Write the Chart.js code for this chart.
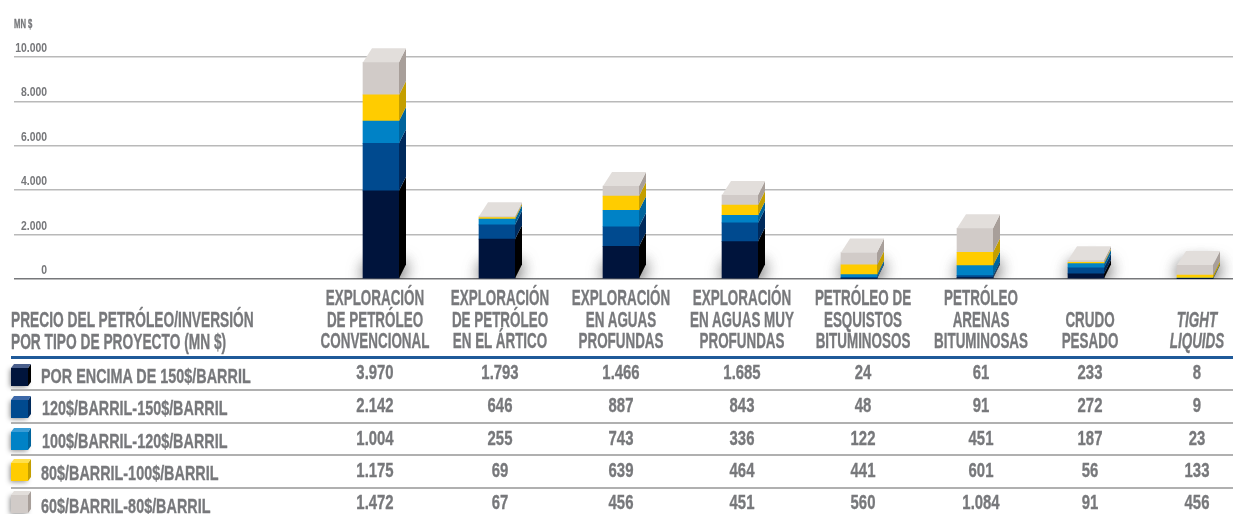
<!DOCTYPE html>
<html><head><meta charset="utf-8">
<script src="https://cdn.jsdelivr.net/npm/chart.js@4"></script>
<style>
html,body{margin:0;padding:0;background:#fff;width:1233px;height:514px;overflow:hidden}
#wrap{position:relative;width:1233px;height:514px}
canvas{position:absolute;left:0;top:0}
.t{position:absolute;white-space:nowrap;color:#77787b;font-family:"Liberation Sans",sans-serif;font-weight:700;line-height:1;transform-origin:left center;-webkit-text-stroke:.35px #77787b}
.c{text-align:center;transform-origin:center center}
.h{font-size:22px;line-height:21.5px}
.r{font-size:21px}
.rule{position:absolute;left:11px;right:0}
</style></head><body>
<div id="wrap"><canvas id="c" width="1233" height="514"></canvas></div>
<script>
const categories=[["EXPLORACIÓN","DE PETRÓLEO","CONVENCIONAL"],["EXPLORACIÓN","DE PETRÓLEO","EN EL ÁRTICO"],["EXPLORACIÓN","EN AGUAS","PROFUNDAS"],["EXPLORACIÓN","EN AGUAS MUY","PROFUNDAS"],["PETRÓLEO DE","ESQUISTOS","BITUMINOSOS"],["PETRÓLEO","ARENAS","BITUMINOSAS"],["CRUDO","PESADO"],["TIGHT","LIQUIDS"]];
const seriesNames=["POR ENCIMA DE 150$/BARRIL","120$/BARRIL-150$/BARRIL","100$/BARRIL-120$/BARRIL","80$/BARRIL-100$/BARRIL","60$/BARRIL-80$/BARRIL"];
const over150=[3970,1793,1466,1685,24,61,233,8];
const from120=[2142,646,887,843,48,91,272,9];
const from100=[1004,255,743,336,122,451,187,23];
const from80=[1175,69,639,464,441,601,56,133];
const from60=[1472,67,456,451,560,1084,91,456];
const yTicks=[0,2000,4000,6000,8000,10000];
const series=[over150,from120,from100,from80,from60];
const frontColors=["#00143c","#004a8f","#0082c6","#ffcc00","#d1cbc8"];
const sideColors=["#000000","#002a5c","#00649c","#c49f00","#a89f9a"];
const legendTops=["#4a5f8c","#3c68a8","#3a9dd6","#ffe04d","#e2dedb"];
const topColor="#e2dedb";
const barCenters=[381,497,621,740,859,975,1086,1195];
const headCenters=[375,500,621,742,863,981,1090,1197];
const labelYs=[375,407,440,472,505];
const valueYs=[371,404,437,469,501];
const labelXs=[41,42,42,41,41];
const cubeTops=[364,396,428,459,491];
const ruleYs=[390,423,455,488];
const DX=7,DY=14;

function fmt(n){return String(n).replace(/\B(?=(\d{3})+$)/g,'.');}

class ColumnScale extends Chart.CategoryScale{
  getPixelForValue(v,i){
    const k=(v===null||v===undefined)?i:v;
    return barCenters[k];
  }
}
ColumnScale.id='column';
ColumnScale.defaults=Chart.CategoryScale.defaults;
class NarrowLinear extends Chart.LinearScale{
  drawLabels(area){
    const c=this.ctx,R=this.right;
    c.save();c.translate(R,0);c.scale(.8,1);c.translate(-R,0);
    super.drawLabels(area);
    c.restore();
  }
}
NarrowLinear.id='narrowLinear';
NarrowLinear.defaults=Chart.LinearScale.defaults;
Chart.register(ColumnScale,NarrowLinear);

const shadowPlugin={id:'shadow',beforeDatasetsDraw(chart){
  const ctx=chart.ctx,m=chart.getDatasetMeta(0),a=chart.chartArea;
  ctx.save();
  ctx.beginPath();ctx.rect(0,0,chart.width,a.bottom);ctx.clip();
  ctx.shadowColor='rgba(0,0,0,.6)';ctx.shadowBlur=18;ctx.shadowOffsetX=0;ctx.shadowOffsetY=0;
  ctx.fillStyle='#999';
  m.data.forEach(b=>{
    const l=b.x-b.width/2,r=b.x+b.width/2,bo=b.base;
    for(let n=0;n<2;n++){
      ctx.beginPath();ctx.moveTo(l,bo);ctx.lineTo(r,bo);ctx.lineTo(r+DX,bo-DY);ctx.lineTo(l+DX,bo-DY);ctx.closePath();ctx.fill();
    }
  });
  ctx.restore();
}};
const cubePlugin={id:'cube',afterDatasetsDraw(chart){
  const ctx=chart.ctx;
  ctx.save();
  chart.data.datasets.forEach((ds,di)=>{
    chart.getDatasetMeta(di).data.forEach(b=>{
      const r=b.x+b.width/2,l=b.x-b.width/2,t=Math.min(b.y,b.base),bo=Math.max(b.y,b.base);
      ctx.fillStyle=sideColors[di];
      ctx.beginPath();ctx.moveTo(r,bo);ctx.lineTo(r+DX,bo-DY);ctx.lineTo(r+DX,t-DY);ctx.lineTo(r,t);ctx.closePath();ctx.fill();
      if(di===chart.data.datasets.length-1){
        ctx.fillStyle=topColor;
        ctx.beginPath();ctx.moveTo(l,t);ctx.lineTo(l+DX+2,t-DY);ctx.lineTo(r+DX,t-DY);ctx.lineTo(r,t);ctx.closePath();ctx.fill();
      }
    });
  });
  cubeTops.forEach((top,i)=>{
    const x=11,w=17,h=18,dy=4,dx=3;
    ctx.shadowColor='rgba(0,0,0,.45)';ctx.shadowBlur=5;ctx.shadowOffsetX=-1;ctx.shadowOffsetY=1;
    ctx.fillStyle=frontColors[i];ctx.fillRect(x,top+dy,w,h);
    ctx.shadowColor='transparent';
    ctx.fillStyle=sideColors[i];
    ctx.beginPath();ctx.moveTo(x+w,top+dy);ctx.lineTo(x+w+dx,top);ctx.lineTo(x+w+dx,top+h);ctx.lineTo(x+w,top+h+dy);ctx.closePath();ctx.fill();
    ctx.fillStyle=legendTops[i];
    ctx.beginPath();ctx.moveTo(x,top+dy);ctx.lineTo(x+dx,top);ctx.lineTo(x+w+dx,top);ctx.lineTo(x+w,top+dy);ctx.closePath();ctx.fill();
  });
  ctx.restore();
}};

new Chart(document.getElementById('c'),{
  type:'bar',
  data:{labels:categories.map(c=>c.join(' ')),
    datasets:series.map((d,i)=>({label:seriesNames[i],data:d,backgroundColor:frontColors[i],barThickness:36,borderWidth:0}))},
  options:{responsive:false,animation:false,
    layout:{padding:{top:57,bottom:235,left:0,right:0}},
    plugins:{legend:{display:false},tooltip:{enabled:false}},
    scales:{
      x:{type:'column',stacked:true,display:false},
      y:{type:'narrowLinear',stacked:true,min:0,max:10000,
        afterBuildTicks(s){s.ticks=yTicks.map(v=>({value:v}));},
        afterFit(s){s.width=47;},
        border:{display:false},
        grid:{color:c=>c.tick.value===0?'#77787b':'#b9b9b9',lineWidth:1.5,tickLength:33,drawTicks:true,
              tickColor:c=>c.tick.value===0?'#77787b':'#b9b9b9',tickWidth:1.5},
        ticks:{padding:-33,labelOffset:-8.5,color:'#77787b',autoSkip:false,
          font:{family:'"Liberation Sans",sans-serif',weight:'700',size:13},
          callback:v=>fmt(v)}
      }
    }
  },
  plugins:[shadowPlugin,cubePlugin]
});

const wrap=document.getElementById('wrap');
function add(cls,html,x,y,sx){
  const d=document.createElement('div');d.className='t '+cls;d.innerHTML=html;d.style.left=x+'px';d.style.top=y+'px';
  wrap.appendChild(d);
  d.style.transform=(cls.includes('c')?'translateX(-50%) ':'')+'scaleX('+sx+')';
  return d;
}
function rule(y,h,col){const d=document.createElement('div');d.className='rule';d.style.top=y+'px';d.style.height=h+'px';d.style.background=col;wrap.appendChild(d);}

add('','MN $',14,18,.64).style.fontSize='12px';
add('h','PRECIO DEL PETRÓLEO/INVERSIÓN<br>POR TIPO DE PROYECTO (MN $)',11,309,.625);
categories.forEach((c,i)=>{
  const n=c.length,top=351.5-n*21.5;
  const d=add('h c',c.join('<br>'),headCenters[i],top,.61);
  if(i===7)d.style.fontStyle='italic';
});
rule(356,3,'#1f5a99');
ruleYs.forEach(y=>rule(y-.75,1.5,'#b0b0b0'));
seriesNames.forEach((s,i)=>{
  add('r',s,labelXs[i],labelYs[i]-10.5,.685);
  series[i].forEach((v,j)=>add('r c',fmt(v),headCenters[j],valueYs[i]-10.5,.71));
});
</script></body></html>
